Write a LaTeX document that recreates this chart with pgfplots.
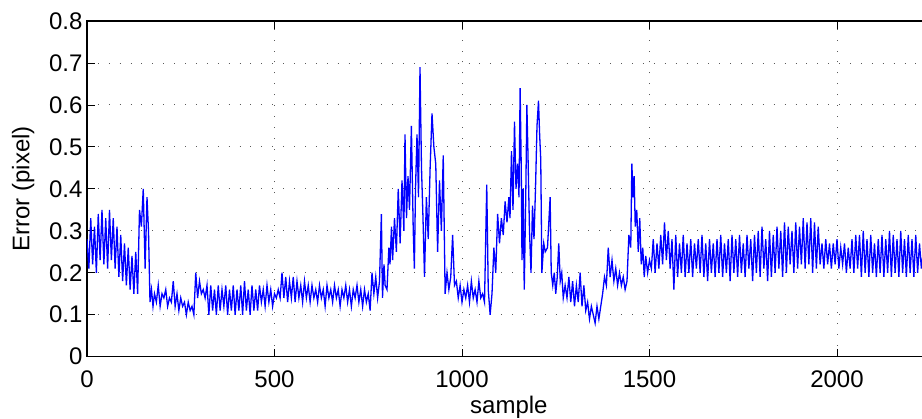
\documentclass[border=0pt]{standalone}
\usepackage{pgfplots}
\pgfplotsset{compat=1.18}
\usepackage{fontspec}
\setmainfont{Liberation Sans}
\begin{document}
\begin{tikzpicture}
\begin{axis}[
  name=ax,
  scale only axis,
  width=843.75pt, height=335.7pt,
  xmin=0, xmax=2250, ymin=0, ymax=0.8,
  xtick={0,500,1000,1500,2000},
  ytick={0,0.1,0.2,0.3,0.4,0.5,0.6,0.7,0.8},
  /pgf/number format/assume math mode=true,
  /pgf/number format/1000 sep={},
  tick align=inside,
  major tick length=8pt,
  tick style={black, line width=0.8pt},
  axis line style={black, line width=1.1pt},
  grid=major,
  major grid style={black!65, line width=0.9pt, dash pattern=on 0.9pt off 10pt},
  tick label style={font=\fontsize{24}{28}\selectfont},
  label style={font=\fontsize{24}{28}\selectfont},
  xticklabel style={yshift=-11pt},
  yticklabel style={xshift=-1pt},
  xlabel={sample},
  ylabel={Error (pixel)},
  xlabel style={yshift=-1pt},
  ylabel style={yshift=8pt},
]
\addplot[blue, line width=1.3pt] coordinates {
(0,0.28)(5,0.21)(10,0.33)(15,0.22)(20,0.31)(25,0.20)(30,0.34)(35,0.23)(40,0.35)(45,0.22)(50,0.33)(55,0.21)(60,0.35)(65,0.23)(70,0.33)(75,0.21)(80,0.31)(85,0.19)(90,0.29)(95,0.18)(100,0.27)(105,0.17)(110,0.26)(115,0.16)(120,0.24)(125,0.15)(130,0.25)(135,0.15)(140,0.35)(145,0.31)(150,0.40)(155,0.21)(160,0.38)(164,0.30)(168,0.13)
(172,0.16)(176,0.12)(180,0.15)(185,0.13)(190,0.17)(195,0.12)(200,0.15)(205,0.14)(210,0.16)(215,0.12)(220,0.14)(225,0.13)(230,0.18)(235,0.12)(240,0.15)(245,0.11)(250,0.14)(255,0.12)(260,0.13)(265,0.10)(270,0.13)(275,0.11)(280,0.12)(285,0.10)(290,0.20)(295,0.14)(300,0.18)(305,0.15)(310,0.16)(315,0.14)(320,0.17)(325,0.10)
(330,0.17)(335,0.11)(340,0.16)(345,0.10)(350,0.17)(355,0.11)(360,0.16)(365,0.12)(370,0.17)(375,0.10)(380,0.16)(385,0.11)(390,0.17)(395,0.10)(400,0.16)(405,0.11)(410,0.17)(415,0.10)(420,0.18)(425,0.11)(430,0.16)(435,0.10)(440,0.17)(445,0.11)(450,0.16)(455,0.11)(460,0.17)
(465,0.13)(470,0.16)(475,0.12)(480,0.17)(485,0.13)(490,0.16)(495,0.12)(500,0.15)(505,0.14)(510,0.16)
(515,0.14)(520,0.20)(525,0.14)(530,0.19)(535,0.13)(540,0.18)(545,0.14)(550,0.19)(555,0.13)(560,0.18)(565,0.14)(570,0.17)(575,0.13)(580,0.18)(585,0.14)(590,0.17)
(595,0.13)(600,0.17)(605,0.14)(610,0.16)(615,0.13)(620,0.17)(625,0.14)(630,0.16)(635,0.12)(640,0.17)(645,0.14)(650,0.16)(655,0.13)(660,0.17)(665,0.14)(670,0.16)(675,0.12)(680,0.16)(685,0.14)(690,0.17)(695,0.13)(700,0.16)(705,0.12)(710,0.16)(715,0.14)(720,0.17)(725,0.13)(730,0.16)(735,0.12)(740,0.16)(745,0.13)(750,0.15)(755,0.11)
(760,0.20)(765,0.15)(770,0.19)(775,0.14)(780,0.18)(785,0.34)(788,0.14)(792,0.22)(795,0.17)(800,0.16)(805,0.26)(808,0.22)(812,0.31)(815,0.23)(820,0.33)(825,0.25)(830,0.40)(835,0.27)(840,0.42)(845,0.30)(848,0.53)(852,0.33)(856,0.43)(860,0.35)(865,0.55)(870,0.30)(873,0.21)(876,0.40)(880,0.53)(884,0.38)(888,0.69)(892,0.45)(896,0.33)(900,0.19)(905,0.38)(910,0.28)(915,0.45)(920,0.58)(925,0.50)(930,0.46)(935,0.25)(940,0.42)(945,0.30)(950,0.48)(955,0.15)(960,0.20)(965,0.16)(970,0.19)(975,0.29)(980,0.17)(985,0.18)(990,0.14)(995,0.17)(1000,0.13)(1005,0.16)(1010,0.14)(1015,0.17)(1020,0.13)(1025,0.18)(1030,0.14)(1035,0.16)(1040,0.13)(1045,0.18)(1050,0.14)(1055,0.15)(1060,0.13)(1066,0.41)(1070,0.16)(1075,0.10)(1080,0.15)(1085,0.26)(1090,0.20)(1095,0.34)(1100,0.27)(1105,0.33)(1110,0.29)(1115,0.37)(1120,0.32)(1125,0.38)(1128,0.33)(1132,0.49)(1136,0.35)(1140,0.56)(1144,0.40)(1148,0.46)(1152,0.38)(1155,0.64)(1158,0.45)(1160,0.23)(1163,0.40)(1166,0.16)(1170,0.38)(1173,0.60)(1176,0.48)(1180,0.30)(1184,0.20)(1188,0.36)(1192,0.28)(1196,0.40)(1200,0.55)(1204,0.61)(1207,0.53)(1210,0.47)(1213,0.20)(1218,0.27)(1222,0.25)(1228,0.26)(1235,0.38)(1238,0.20)(1242,0.17)(1246,0.20)(1250,0.15)(1254,0.19)(1258,0.27)(1262,0.18)(1266,0.20)(1270,0.14)(1275,0.17)(1280,0.14)(1285,0.19)(1290,0.13)(1295,0.18)(1300,0.12)(1305,0.17)(1310,0.13)(1315,0.20)(1320,0.12)(1325,0.17)(1330,0.11)(1335,0.13)(1340,0.09)(1345,0.12)(1350,0.10)(1355,0.08)(1360,0.12)(1365,0.09)(1370,0.12)(1375,0.15)(1380,0.19)(1385,0.17)(1390,0.26)(1395,0.19)(1400,0.23)(1405,0.18)(1410,0.21)(1415,0.17)(1420,0.20)(1425,0.17)(1430,0.19)(1435,0.16)(1440,0.18)(1445,0.29)(1450,0.26)(1453,0.46)(1456,0.38)(1459,0.43)(1462,0.31)(1466,0.35)(1470,0.25)(1474,0.33)(1478,0.22)(1482,0.26)(1486,0.19)(1490,0.24)(1495,0.20)(1500,0.23)
(1505,0.21)(1510,0.28)(1515,0.20)(1520,0.27)(1525,0.21)(1530,0.29)(1535,0.22)(1540,0.32)(1545,0.23)(1550,0.30)(1555,0.21)(1560,0.28)(1565,0.16)(1570,0.29)(1575,0.19)(1580,0.27)(1585,0.20)(1590,0.29)(1595,0.19)(1600,0.27)(1605,0.20)(1610,0.28)(1615,0.19)(1620,0.27)(1625,0.21)(1630,0.28)(1635,0.20)(1640,0.29)(1645,0.19)(1650,0.27)(1655,0.18)(1660,0.28)(1665,0.20)(1670,0.27)(1675,0.19)(1680,0.28)(1685,0.20)(1690,0.29)(1695,0.19)(1700,0.27)(1705,0.20)(1710,0.28)(1715,0.18)(1720,0.29)(1725,0.20)(1730,0.28)(1735,0.19)(1740,0.29)(1745,0.20)(1750,0.27)(1755,0.19)(1760,0.29)(1765,0.21)(1770,0.28)(1775,0.18)(1780,0.29)(1785,0.20)(1790,0.30)(1795,0.19)(1800,0.31)(1805,0.21)(1810,0.28)(1815,0.18)(1820,0.30)(1825,0.19)(1830,0.29)(1835,0.20)(1840,0.31)(1845,0.21)(1850,0.30)(1855,0.19)(1860,0.32)(1865,0.20)(1870,0.31)(1875,0.22)(1880,0.30)(1885,0.20)(1890,0.32)(1895,0.21)(1900,0.31)(1905,0.22)(1910,0.33)(1915,0.21)(1920,0.32)(1925,0.22)(1930,0.33)(1935,0.20)(1940,0.32)(1945,0.21)(1950,0.31)(1955,0.22)(1960,0.27)(1965,0.21)(1970,0.28)(1975,0.22)(1980,0.27)(1985,0.21)(1990,0.27)(1995,0.22)(2000,0.28)(2005,0.21)(2010,0.26)(2015,0.22)(2020,0.27)(2025,0.20)(2030,0.26)(2035,0.21)(2040,0.28)(2045,0.20)(2050,0.29)(2055,0.21)(2060,0.29)(2065,0.19)(2070,0.30)(2075,0.20)(2080,0.28)(2085,0.19)(2090,0.29)(2095,0.20)(2100,0.27)(2105,0.19)(2110,0.28)(2115,0.20)(2120,0.29)(2125,0.19)(2130,0.28)(2135,0.20)(2140,0.30)(2145,0.19)(2150,0.29)(2155,0.20)(2160,0.28)(2165,0.19)(2170,0.30)(2175,0.20)(2180,0.28)(2185,0.19)(2190,0.29)(2195,0.20)(2200,0.28)(2205,0.19)(2210,0.29)(2215,0.20)(2220,0.27)(2225,0.21)(2230,0.25)
};
\end{axis}
\pgfresetboundingbox
\path[use as bounding box] ([xshift=-87pt,yshift=-62.3pt]ax.south west) rectangle ([xshift=835pt,yshift=356.7pt]ax.south west);
\end{tikzpicture}
\end{document}
